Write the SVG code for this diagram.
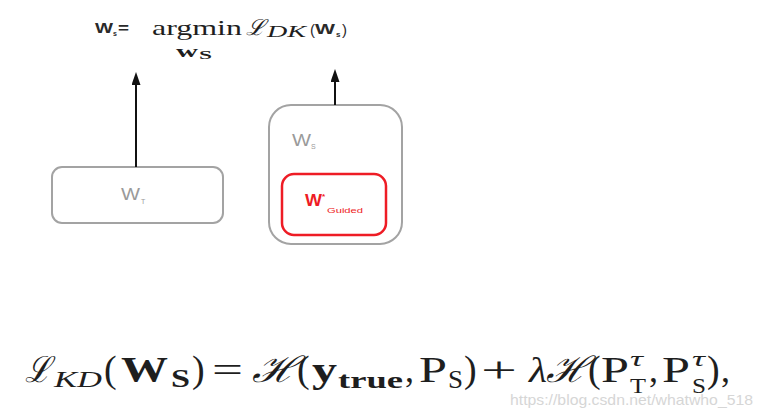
<svg xmlns="http://www.w3.org/2000/svg" width="764" height="418" viewBox="0 0 764 418">
<style>
.serif{font-family:"Liberation Serif","DejaVu Serif",serif;fill:#1e1e1e}
.sym{font-family:"DejaVu Serif","Liberation Serif",serif;fill:#1e1e1e;font-style:italic}
.it{font-style:italic}
.bf{font-weight:bold}
.sans{font-family:"Liberation Sans",Arial,sans-serif}
.box{fill:#fff;stroke:#a3a3a3;stroke-width:2}
.redbox{fill:#fff;stroke:#ee1c25;stroke-width:2.5}
.lbl{font-family:"Liberation Sans",Arial,sans-serif;fill:#9a9a9a}
.red{font-family:"Liberation Sans",Arial,sans-serif;fill:#ee1c25}
.conn{stroke:#111;stroke-width:2;fill:none}
</style>
<defs>
<marker id="arr" markerUnits="userSpaceOnUse" markerWidth="14" markerHeight="10" refX="9" refY="4.5" orient="auto">
<path d="M0,0 L13,4.5 L0,9 z" fill="#111"/>
</marker>
</defs>

<g id="objective">
<text class="sans bf" x="95" y="33" font-size="14" fill="#2a2a2a" textLength="18" lengthAdjust="spacingAndGlyphs">W</text>
<text class="sans bf" x="113" y="36" font-size="7" fill="#2a2a2a">s</text>
<text class="sans bf" x="118" y="33" font-size="14" fill="#2a2a2a" textLength="11" lengthAdjust="spacingAndGlyphs">=</text>
<text class="serif" x="152" y="35" font-size="22" textLength="90" lengthAdjust="spacingAndGlyphs">argmin</text>
<text class="serif bf" x="176" y="57" font-size="16" textLength="22" lengthAdjust="spacingAndGlyphs">w</text>
<text class="serif bf" x="199" y="59" font-size="12" textLength="13" lengthAdjust="spacingAndGlyphs">S</text>
<text class="sym" x="246" y="35" font-size="22" textLength="19" lengthAdjust="spacingAndGlyphs">ℒ</text>
<text class="serif it" x="267" y="37" font-size="16" textLength="39" lengthAdjust="spacingAndGlyphs">DK</text>
<text class="sans" x="310" y="35" font-size="15" fill="#2a2a2a">(</text>
<text class="sans bf" x="315" y="34" font-size="15" fill="#2a2a2a" textLength="20" lengthAdjust="spacingAndGlyphs">W</text>
<text class="sans bf" x="336" y="37" font-size="8" fill="#2a2a2a">s</text>
<text class="sans" x="342" y="35" font-size="15" fill="#2a2a2a">)</text>
</g>

<g id="teacher">
<rect class="box" x="52" y="167" width="171" height="56" rx="10"/>
<text class="lbl" x="121" y="200" font-size="16" textLength="19" lengthAdjust="spacingAndGlyphs">W</text>
<text class="lbl" x="141" y="204" font-size="7">T</text>
</g>

<g id="student">
<rect class="box" x="269" y="105" width="133" height="139" rx="22"/>
<text class="lbl" x="292" y="146" font-size="16" textLength="19" lengthAdjust="spacingAndGlyphs">W</text>
<text class="lbl" x="311" y="149" font-size="7">S</text>
</g>

<g id="guided">
<rect class="redbox" x="282" y="174" width="104" height="61" rx="12"/>
<text class="red bf" x="305" y="206" font-size="16" textLength="17" lengthAdjust="spacingAndGlyphs">W</text>
<text class="red bf" x="322" y="199" font-size="8">*</text>
<text class="red" x="327" y="213" font-size="8" textLength="36" lengthAdjust="spacingAndGlyphs">Guided</text>
</g>

<g id="connectors">
<line class="conn" x1="136" y1="167" x2="136" y2="76" marker-end="url(#arr)"/>
<line class="conn" x1="335" y1="105" x2="335" y2="73" marker-end="url(#arr)"/>
</g>

<g id="loss">
<text class="sym" x="25" y="382" font-size="36" textLength="26" lengthAdjust="spacingAndGlyphs">ℒ</text>
<text class="serif it" x="54" y="387" font-size="24" textLength="48" lengthAdjust="spacingAndGlyphs">KD</text>
<text class="serif" x="104" y="382" font-size="38">(</text>
<text class="serif bf" x="121" y="382" font-size="36" textLength="47" lengthAdjust="spacingAndGlyphs">W</text>
<text class="serif bf" x="171" y="387" font-size="25" textLength="19" lengthAdjust="spacingAndGlyphs">S</text>
<text class="serif" x="192" y="382" font-size="38">)</text>
<text class="serif" x="212" y="382" font-size="36" textLength="31" lengthAdjust="spacingAndGlyphs">=</text>
<text class="sym" x="252" y="382" font-size="36" textLength="45" lengthAdjust="spacingAndGlyphs">ℋ</text>
<text class="serif" x="297" y="382" font-size="38">(</text>
<text class="serif bf" x="312" y="382" font-size="36" textLength="25" lengthAdjust="spacingAndGlyphs">y</text>
<text class="serif bf" x="338" y="388" font-size="24" textLength="65" lengthAdjust="spacingAndGlyphs">true</text>
<text class="serif" x="405" y="382" font-size="36">,</text>
<text class="serif" x="419" y="382" font-size="36" textLength="28" lengthAdjust="spacingAndGlyphs">P</text>
<text class="serif" x="448" y="388" font-size="25" textLength="15" lengthAdjust="spacingAndGlyphs">S</text>
<text class="serif" x="464" y="382" font-size="38">)</text>
<text class="serif" x="481" y="382" font-size="36" textLength="36" lengthAdjust="spacingAndGlyphs">+</text>
<text class="serif it" x="529" y="382" font-size="36" textLength="18" lengthAdjust="spacingAndGlyphs">λ</text>
<text class="sym" x="546" y="382" font-size="36" textLength="42" lengthAdjust="spacingAndGlyphs">ℋ</text>
<text class="serif" x="588" y="382" font-size="38">(</text>
<text class="serif" x="601" y="382" font-size="36" textLength="28" lengthAdjust="spacingAndGlyphs">P</text>
<text class="serif it" x="630" y="366" font-size="20" textLength="13" lengthAdjust="spacingAndGlyphs">τ</text>
<text class="serif" x="630" y="393" font-size="21" textLength="16" lengthAdjust="spacingAndGlyphs">T</text>
<text class="serif" x="649" y="382" font-size="36">,</text>
<text class="serif" x="662" y="382" font-size="36" textLength="28" lengthAdjust="spacingAndGlyphs">P</text>
<text class="serif it" x="692" y="366" font-size="20" textLength="13" lengthAdjust="spacingAndGlyphs">τ</text>
<text class="serif" x="692" y="393" font-size="21" textLength="14" lengthAdjust="spacingAndGlyphs">S</text>
<text class="serif" x="707" y="382" font-size="38">)</text>
<text class="serif" x="721" y="382" font-size="36">,</text>
</g>

<text x="510" y="405" font-family="Liberation Sans,Arial,sans-serif" font-size="15" fill="#d6d6d6" textLength="243" lengthAdjust="spacingAndGlyphs">https://blog.csdn.net/whatwho_518</text>
</svg>
